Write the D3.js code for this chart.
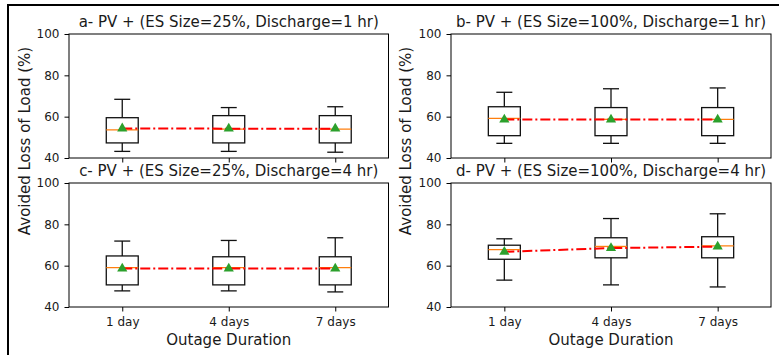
<!DOCTYPE html>
<html>
<head>
<meta charset="utf-8">
<script src="https://cdn.jsdelivr.net/npm/d3@7"></script>
<style>
  html, body { margin: 0; padding: 0; background: #fff; }
  svg { display: block; }
  text { font-family: "DejaVu Sans", sans-serif; fill: #1a1a1a; }
</style>
</head>
<body>
<svg id="chart" width="779" height="355"></svg>
<script>
// Outage durations on the x axis
const categories = ["1 day", "4 days", "7 days"];

// One row per panel (a, b, c, d); one value per outage duration
const panelTitles = [
  "a- PV + (ES Size=25%, Discharge=1 hr)",
  "b- PV + (ES Size=100%, Discharge=1 hr)",
  "c- PV + (ES Size=25%, Discharge=4 hr)",
  "d- PV + (ES Size=100%, Discharge=4 hr)"
];
const whiskerLow = [
  [43.2, 43.2, 42.8],
  [47.1, 47.1, 47.1],
  [47.8, 47.8, 47.3],
  [53.0, 50.7, 49.7]
];
const q1 = [
  [47.3, 47.3, 47.3],
  [50.8, 50.8, 50.8],
  [50.7, 50.7, 50.7],
  [63.1, 63.8, 63.8]
];
const median = [
  [53.6, 54.0, 54.0],
  [59.2, 58.7, 58.7],
  [59.1, 59.1, 59.1],
  [67.8, 69.3, 69.6]
];
const q3 = [
  [59.5, 60.5, 60.5],
  [64.8, 64.4, 64.4],
  [64.7, 64.3, 64.3],
  [69.9, 73.5, 74.0]
];
const whiskerHigh = [
  [68.4, 64.4, 64.8],
  [71.8, 73.5, 73.9],
  [71.9, 72.2, 73.5],
  [73.0, 82.8, 85.1]
];
const means = [
  [54.3, 54.2, 54.2],
  [58.6, 58.6, 58.6],
  [58.6, 58.6, 58.6],
  [66.7, 68.5, 69.2]
];

const yTicks = [40, 60, 80, 100];
const yLabel = "Avoided Loss of Load (%)";
const xLabel = "Outage Duration";

const svg = d3.select("#chart");

// figure frame (top and left edges)
svg.append("line").attr("x1", 7).attr("x2", 779).attr("y1", 5).attr("y2", 5)
  .attr("stroke", "#000").attr("stroke-width", 2);
svg.append("line").attr("x1", 8).attr("x2", 8).attr("y1", 4).attr("y2", 355)
  .attr("stroke", "#000").attr("stroke-width", 2);

// panel frames: [left, right, top, bottom]
const frames = [
  [69, 388.5, 34, 158],
  [451, 771, 34, 158],
  [69, 388.5, 183, 307],
  [451, 771, 183, 307]
];

frames.forEach((f, p) => {
  const [x0, x1, y0, y1] = f;
  const x = d3.scaleLinear().domain([0.5, 3.5]).range([x0, x1]);
  const y = d3.scaleLinear().domain([40, 100]).range([y1, y0]);
  const g = svg.append("g");
  const boxW = x(1.3) - x(1.0);
  const capW = boxW / 2;

  // y axis
  const ya = g.append("g").attr("transform", `translate(${x0},0)`)
    .call(d3.axisLeft(y).tickValues(yTicks).tickSize(4.5).tickPadding(5));
  ya.select(".domain").remove();
  ya.selectAll("line").attr("stroke", "#000").attr("stroke-width", 1);
  ya.selectAll("text").attr("font-size", 12).style("font-family", "DejaVu Sans");

  // x axis ticks (labels only on the bottom row)
  const xa = g.append("g").attr("transform", `translate(0,${y1})`)
    .call(d3.axisBottom(x).tickValues([1, 2, 3]).tickFormat((d, i) => categories[i])
      .tickSize(4.5).tickPadding(6));
  xa.select(".domain").remove();
  xa.selectAll("line").attr("stroke", "#000").attr("stroke-width", 1);
  xa.selectAll("text").attr("font-size", 12).style("font-family", "DejaVu Sans");
  if (p < 2) xa.selectAll("text").remove();

  // boxes
  categories.forEach((c, i) => {
    const cx = x(i + 1);
    const box = g.append("g");
    // whiskers
    box.append("line").attr("x1", cx).attr("x2", cx)
      .attr("y1", y(q3[p][i])).attr("y2", y(whiskerHigh[p][i]));
    box.append("line").attr("x1", cx).attr("x2", cx)
      .attr("y1", y(q1[p][i])).attr("y2", y(whiskerLow[p][i]));
    // caps
    box.append("line").attr("x1", cx - capW / 2).attr("x2", cx + capW / 2)
      .attr("y1", y(whiskerHigh[p][i])).attr("y2", y(whiskerHigh[p][i]));
    box.append("line").attr("x1", cx - capW / 2).attr("x2", cx + capW / 2)
      .attr("y1", y(whiskerLow[p][i])).attr("y2", y(whiskerLow[p][i]));
    // interquartile box
    box.append("rect").attr("x", cx - boxW / 2).attr("width", boxW)
      .attr("y", y(q3[p][i])).attr("height", y(q1[p][i]) - y(q3[p][i]));
    box.selectAll("line, rect").attr("fill", "none").attr("stroke", "#111")
      .attr("stroke-width", 1.3);
    // median
    box.append("line").attr("x1", cx - boxW / 2).attr("x2", cx + boxW / 2)
      .attr("y1", y(median[p][i])).attr("y2", y(median[p][i]))
      .attr("stroke", "#ff7f0e").attr("stroke-width", 1.3);
  });

  // trend of the means
  const line = d3.line().x((d, i) => x(i + 1)).y(d => y(d));
  g.append("path").datum(means[p]).attr("d", line)
    .attr("fill", "none").attr("stroke", "#ff0000").attr("stroke-width", 2)
    .attr("stroke-dasharray", "10,3,2,3");

  // mean markers
  const tri = d3.symbol().type(d3.symbolTriangle).size(45);
  g.selectAll(".mean").data(means[p]).join("path")
    .attr("class", "mean")
    .attr("transform", (d, i) => `translate(${x(i + 1)},${y(d)})`)
    .attr("d", tri).attr("fill", "#2ca02c");

  // spines
  g.append("rect").attr("x", x0).attr("y", y0).attr("width", x1 - x0).attr("height", y1 - y0)
    .attr("fill", "none").attr("stroke", "#000").attr("stroke-width", 1);

  // title
  g.append("text").attr("x", (x0 + x1) / 2).attr("y", y0 - 7.3)
    .attr("text-anchor", "middle").attr("font-size", 15).text(panelTitles[p]);

  // x label on bottom row
  if (p >= 2) {
    g.append("text").attr("x", (x0 + x1) / 2).attr("y", 345)
      .attr("text-anchor", "middle").attr("font-size", 15).text(xLabel);
  }
});

// y labels, one per column
[29.5, 410.5].forEach(lx => {
  svg.append("text").attr("transform", `translate(${lx},141) rotate(-90)`)
    .attr("text-anchor", "middle").attr("font-size", 15).text(yLabel);
});
</script>
</body>
</html>
